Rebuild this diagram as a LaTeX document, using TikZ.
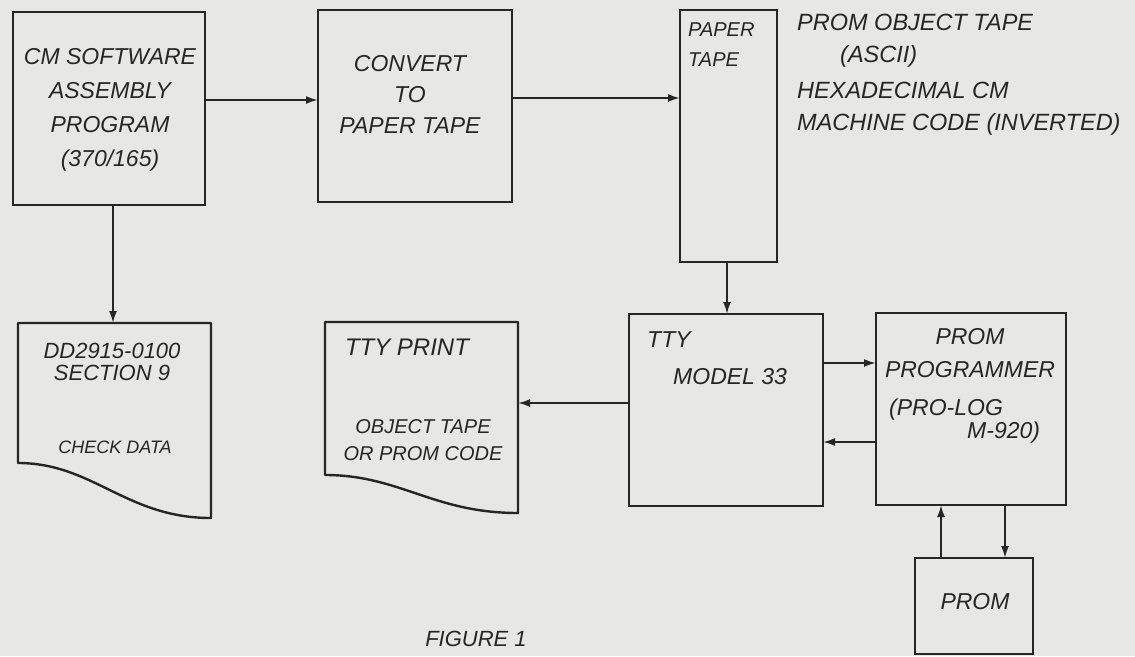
\documentclass[tikz,border=0pt]{standalone}
\usepackage{fontspec}
\setmainfont{Liberation Sans}
\usetikzlibrary{arrows.meta,calc}
\definecolor{paper}{RGB}{231,231,229}
\definecolor{ink}{RGB}{38,38,38}
\begin{document}
\begin{tikzpicture}[x=1pt,y=-1pt,
  box/.style={draw=ink,line width=2.4pt,anchor=north west,inner sep=0pt,outer sep=0pt},
  doc/.style={anchor=north west,inner sep=0pt,outer sep=0pt},
  docline/.style={draw=ink,line width=2.4pt,line join=round},
  lbl/.style={text=ink,inner sep=0pt,align=center,font=\fontsize{22}{32}\selectfont\itshape},
  conn/.style={draw=ink,line width=2pt,-{Latex[length=12pt,width=8pt]}}]
\fill[paper] (0,0) rectangle (1135,656);
\useasboundingbox (0,0) rectangle (1135,656);

% boxes
\node[box,minimum width=192pt,minimum height=193pt] (asm) at (13,12) {};
\node[box,minimum width=194pt,minimum height=192pt] (conv) at (318,10) {};
\node[box,minimum width=97pt,minimum height=252pt] (ptape) at (680,10) {};
\node[box,minimum width=194pt,minimum height=192pt] (tty) at (629,314) {};
\node[box,minimum width=190pt,minimum height=192pt] (prog) at (876,313) {};
\node[box,minimum width=118pt,minimum height=96pt] (prom) at (915,558) {};

% documents
\node[doc,minimum width=193pt,minimum height=195pt] (dd) at (18,323) {};
\coordinate (ddc) at ($(dd.south west)+(0,-55)$);
\draw[docline] (ddc) -- (dd.north west) -- (dd.north east) -- (dd.south east)
  .. controls +(-85,0) and +(75,0) .. (ddc) -- cycle;
\node[doc,minimum width=193pt,minimum height=191pt] (print) at (325,322) {};
\coordinate (prc) at ($(print.south west)+(0,-38)$);
\draw[docline] (prc) -- (print.north west) -- (print.north east) -- (print.south east)
  .. controls +(-85,0) and +(75,0) .. (prc) -- cycle;

% texts
\node[lbl,font=\fontsize{23}{34}\selectfont\itshape] (tasm) at (110,110)
  {CM SOFTWARE\\ASSEMBLY\\PROGRAM\\(370/165)};
\node[lbl,font=\fontsize{23}{31}\selectfont\itshape] (tconv) at (410,94)
  {CONVERT\\TO\\PAPER TAPE};
\node[lbl,align=left,anchor=north west,font=\fontsize{20}{30}\selectfont\itshape] (tpt) at (688,23)
  {PAPER\\TAPE};
\node[lbl,align=left,anchor=north west,font=\fontsize{23.5}{32}\selectfont\itshape] (tnote) at (797,14)
  {PROM OBJECT TAPE\\\hspace*{43pt}(ASCII)\\[4pt]HEXADECIMAL CM\\MACHINE CODE (INVERTED)};
\node[lbl,align=left,anchor=north west,font=\fontsize{23}{37}\selectfont\itshape] (ttty) at (647,331)
  {TTY\\\hspace*{26pt}MODEL 33};
\node[lbl,font=\fontsize{23}{33}\selectfont\itshape] (tprog1) at (970,353)
  {PROM\\PROGRAMMER};
\node[lbl,align=left,anchor=north west,font=\fontsize{23}{23}\selectfont\itshape] (tprog2) at (889,399)
  {(PRO-LOG\\\hspace*{78pt}M-920)};
\node[lbl,font=\fontsize{23}{30}\selectfont\itshape] (tprom) at (975,602) {PROM};
\node[lbl,font=\fontsize{22}{22}\selectfont\itshape] (tdd1) at (112,362)
  {DD2915-0100\\SECTION 9};
\node[lbl,font=\fontsize{18}{22}\selectfont\itshape] (tdd2) at (115,447) {CHECK DATA};
\node[lbl,font=\fontsize{24}{30}\selectfont\itshape] (tpr1) at (407,347) {TTY PRINT};
\node[lbl,font=\fontsize{20}{27}\selectfont\itshape] (tpr2) at (423,440)
  {OBJECT TAPE\\OR PROM CODE};
\node[lbl,font=\fontsize{22}{24}\selectfont\itshape] (tfig) at (476,639) {FIGURE 1};

% connectors
\draw[conn] (asm.east |- 0,100) -- (conv.west |- 0,100);
\draw[conn] (conv.east |- 0,98) -- (ptape.west |- 0,98);
\draw[conn] (asm.south -| 113,0) -- (dd.north -| 113,0);
\draw[conn] (ptape.south -| 727,0) -- (tty.north -| 727,0);
\draw[conn] (tty.west |- 0,403) -- (print.east |- 0,403);
\draw[conn] (tty.east |- 0,363) -- (prog.west |- 0,363);
\draw[conn] (prog.west |- 0,442) -- (tty.east |- 0,442);
\draw[conn] (prom.north -| 941,0) -- (prog.south -| 941,0);
\draw[conn] (prog.south -| 1005,0) -- (prom.north -| 1005,0);
\end{tikzpicture}
\end{document}
